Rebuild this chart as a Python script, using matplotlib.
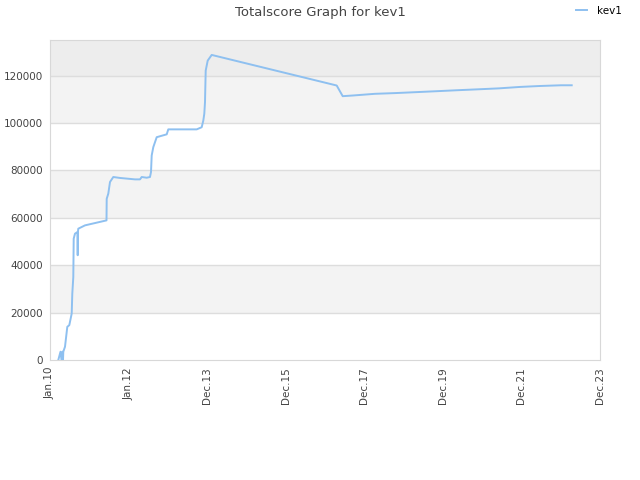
import matplotlib
matplotlib.use("Agg")
import matplotlib.pyplot as plt

# x positions are in "tick units": 0 = Jan.10, 1 = Jan.12, ... 7 = Dec.23
tick_labels = ["Jan.10", "Jan.12", "Dec.13", "Dec.15", "Dec.17", "Dec.19", "Dec.21", "Dec.23"]

px = [58.3, 60.5, 61.5, 62.5, 63.0, 63.3, 65.0, 67.3, 69.3, 71.7, 72.3, 73.3, 73.7,
      75.0, 77.5, 77.7, 77.9, 78.3, 85.0, 106.5, 106.7, 108.3, 110.0, 113.3, 120.0,
      135.0, 140.0, 141.7, 146.7, 150.0, 151.0, 151.7, 153.3, 156.7, 166.7, 168.3,
      196.7, 201.7, 203.3, 204.3, 205.0, 205.7, 207.7, 211.7, 336.7, 342.7, 353.3,
      375.0, 395.0, 416.0, 436.7, 456.7, 478.3, 499.0, 520.0, 540.0, 561.0, 571.7]
score = [0, 3500, 0, 3500, 0, 3500, 5600, 14000, 14700, 19600, 28000, 35000, 51200,
         53300, 54000, 44200, 54000, 55400, 56800, 58900, 68000, 70200, 75100, 77200, 76800,
         76200, 76200, 77200, 76900, 77200, 79300, 86300, 89800, 94000, 95200, 97300,
         97300, 98200, 101000, 103900, 108800, 122100, 126300, 128700, 115800, 111300, 111600,
         112300, 112600, 113000, 113400, 113800, 114200, 114600, 115200, 115600, 115900, 115900]

x_vals = [(p - 50) / 78.571 for p in px]

fig = plt.figure(figsize=(6.4, 4.8), dpi=100)
ax = fig.add_axes([50 / 640, 120 / 480, 550 / 640, 320 / 480])

ymax = 135000
# alternating background bands
bands = [(0, 20000, "white"), (20000, 40000, "#f3f3f3"), (40000, 60000, "white"),
         (60000, 80000, "#f3f3f3"), (80000, 100000, "white"), (100000, 120000, "#f3f3f3"),
         (120000, ymax, "#ededed")]
for lo, hi, c in bands:
    ax.axhspan(lo, hi, color=c, zorder=0, lw=0)
for yv in range(20000, 140000, 20000):
    ax.axhline(yv, color="#dddddd", lw=1, zorder=1)

ax.plot(x_vals, score, color="#8ec0f0", lw=1.4, zorder=3, label="kev1")

ax.set_xlim(0, 7)
ax.set_ylim(0, ymax)
ax.set_xticks(range(8))
ax.set_xticklabels(tick_labels, rotation=90, fontsize=7.5, color="#444444")
ax.set_yticks(range(0, 140000, 20000))
ax.set_yticklabels([str(v) for v in range(0, 140000, 20000)], fontsize=7.5, color="#444444")
ax.tick_params(length=0, pad=5)
for s in ax.spines.values():
    s.set_color("#d8d8d8")

fig.suptitle("Totalscore Graph for kev1", fontsize=9.5, color="#444444", y=0.988)
fig.legend(loc="upper right", bbox_to_anchor=(0.972, 0.988), frameon=False, fontsize=7.5,
           handlelength=1.0, handletextpad=1.0, borderpad=0, borderaxespad=0)

fig.savefig("out.png", dpi=100)
